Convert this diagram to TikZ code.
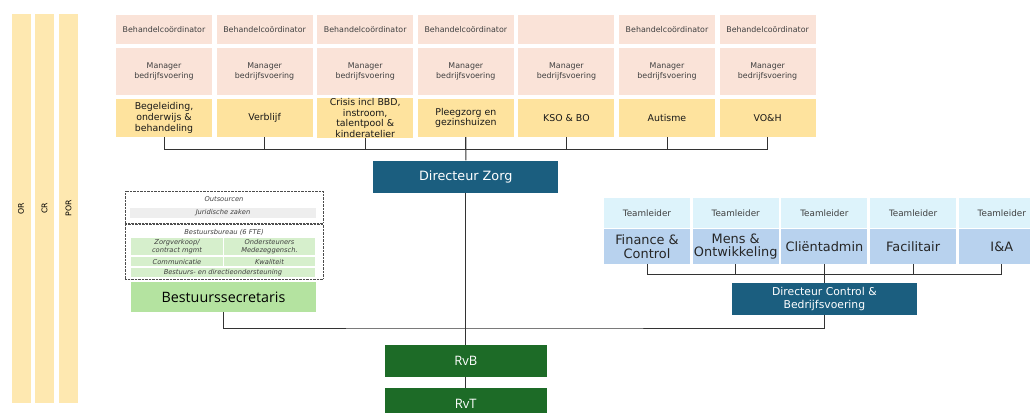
\documentclass[tikz,border=0pt]{standalone}
\usepackage{fontspec}
\setmainfont{DejaVu Sans}
\newfontfamily\opensans{Open Sans}

\definecolor{baryellow}{HTML}{FEE8B0}
\definecolor{unityellow}{HTML}{FEE39E}
\definecolor{peach}{HTML}{FAE3D8}
\definecolor{dirteal}{HTML}{1B5E7F}
\definecolor{leadcyan}{HTML}{DDF3FB}
\definecolor{deptblue}{HTML}{B8D2EE}
\definecolor{secgreen}{HTML}{B4E3A0}
\definecolor{bureaugreen}{HTML}{D6EFCC}
\definecolor{juridgray}{HTML}{EEEEEE}
\definecolor{boardgreen}{HTML}{1D6B27}

\begin{document}
\begin{tikzpicture}[x=1pt, y=-1pt,
  cell/.style={inner sep=0pt, align=center, text=black!75},
  coord/.style={cell, fill=peach, minimum width=96pt, minimum height=29pt, font=\fontsize{7.9}{9}\selectfont},
  mgr/.style={cell, fill=peach, minimum width=96pt, minimum height=47pt, font=\fontsize{7.9}{10.5}\selectfont},
  unit/.style={cell, fill=unityellow, text=black!90, minimum width=96pt, minimum height=38pt, font=\fontsize{9.4}{10.6}\selectfont},
  lead/.style={cell, fill=leadcyan, minimum width=86pt, minimum height=30pt, font=\fontsize{8.8}{10}\selectfont},
  dept/.style={cell, fill=deptblue, text=black!85, minimum width=86pt, minimum height=35pt, font=\fontsize{12.9}{13.6}\selectfont},
  director/.style={cell, fill=dirteal, text=white, minimum width=185pt, minimum height=32pt},
  board/.style={cell, fill=boardgreen, text=white, minimum width=162pt, minimum height=32pt, font=\opensans\fontsize{13}{15}\selectfont},
  raad/.style={fill=baryellow, minimum width=389pt, minimum height=19pt, rotate=90, inner sep=0pt, font=\fontsize{7.8}{9}\selectfont},
  bureau/.style={cell, fill=bureaugreen, font=\itshape\fontsize{6.7}{7.4}\selectfont},
  dotbox/.style={draw=black!70, densely dotted, inner sep=0pt, minimum width=198pt},
  tie/.style={draw=black!80, line width=0.9pt}
]
  \clip (0,0) rectangle (1030,412);
  % Raden langs de linkerkant
  \foreach \name/\x in {OR/21, CR/44.5, POR/68.5}
    \node[raad] (\name) at (\x,208.5) {\name};

  % Zorgeenheden
  \foreach \i/\co/\un in {1/Behandelcoördinator/{Begeleiding,\\onderwijs \&\\behandeling},
      2/Behandelcoördinator/Verblijf,
      3/Behandelcoördinator/{Crisis incl BBD,\\instroom,\\talentpool \&\\kinderatelier},
      4/Behandelcoördinator/{Pleegzorg en\\gezinshuizen},
      5/{}/{KSO \& BO},
      6/Behandelcoördinator/Autisme,
      7/Behandelcoördinator/VO\&H} {
    \pgfmathsetmacro\cx{164+100.6*(\i-1)}
    \node[coord] (c\i) at (\cx,29.5) {\co};
    \node[mgr] (m\i) at (\cx,71.5) {Manager\\bedrijfsvoering};
    \node[unit] (u\i) at (\cx,118) {\un};
  }
  \node[director, font=\fontsize{12.8}{14}\selectfont] (dz) at (465.8,176.5) {Directeur Zorg};
  \coordinate (zbus) at (465.8,149);
  \foreach \i in {1,...,7}
    \draw[tie] (u\i.south) -- (u\i.south |- zbus);
  \draw[tie] (u1.south |- zbus) -- (u7.south |- zbus);
  \draw[tie] (u4.south) -- (dz.north);

  % Staf: outsourcen en bestuursbureau
  \node[dotbox, minimum height=32pt] (outs) at (224,207) {};
  \node[cell, font=\itshape\fontsize{6.7}{7.4}\selectfont] (outsl) at (224,199) {Outsourcen};
  \node[cell, fill=juridgray, minimum width=186pt, minimum height=10pt, font=\itshape\fontsize{6.7}{7.4}\selectfont] (jur) at (223,213) {Juridische zaken};
  \node[dotbox, minimum height=55pt] (bb) at (224,251.5) {};
  \node[cell, font=\itshape\fontsize{6.7}{7.4}\selectfont] (bbl) at (224,232) {Bestuursbureau (6 FTE)};
  \node[bureau, minimum width=92pt, minimum height=17pt] (zv) at (177,246.5) {Zorgverkoop/\\contract mgmt};
  \node[bureau, minimum width=91pt, minimum height=17pt] (om) at (269.5,246.5) {Ondersteuners\\Medezeggensch.};
  \node[bureau, minimum width=92pt, minimum height=9pt] (com) at (177,261.5) {Communicatie};
  \node[bureau, minimum width=91pt, minimum height=9pt] (kw) at (269.5,261.5) {Kwaliteit};
  \node[bureau, minimum width=184pt, minimum height=9pt] (bdo) at (223,272.5) {Bestuurs- en directieondersteuning};
  \node[cell, fill=secgreen, text=black, minimum width=185pt, minimum height=30pt, font=\opensans\fontsize{14.3}{16}\selectfont] (bs) at (223.5,297) {Bestuurssecretaris};

  % Control en bedrijfsvoering
  \foreach \i/\dname in {1/{Finance \&\\Control}, 2/{Mens \&\\Ontwikkeling}, 3/Cliëntadmin, 4/Facilitair, 5/I\&A} {
    \pgfmathsetmacro\cx{647+88.7*(\i-1)}
    \node[lead] (t\i) at (\cx,213) {Teamleider};
    \node[dept] (d\i) at (\cx,246.5) {\dname};
  }
  \node[director, font=\fontsize{10.8}{13.5}\selectfont] (dcb) at (824.4,299) {Directeur Control \&\\Bedrijfsvoering};
  \coordinate (cbus) at (824.4,274);
  \foreach \i in {1,...,5}
    \draw[tie] (d\i.south) -- (d\i.south |- cbus);
  \draw[tie] (d1.south |- cbus) -- (d5.south |- cbus);
  \draw[tie] (d3.south) -- (dcb.north);

  % Raad van bestuur en toezicht
  \node[board] (rvb) at (465.8,361) {RvB};
  \node[board] (rvt) at (465.8,404) {RvT};
  \coordinate (bbus) at (465.8,328);
  \draw[tie] (bs.south) |- (bbus) -| (dcb.south);
  \draw[tie] (dz.south) -- (rvb.north);
  \draw[tie] (rvb.south) -- (rvt.north);
\end{tikzpicture}
\end{document}
